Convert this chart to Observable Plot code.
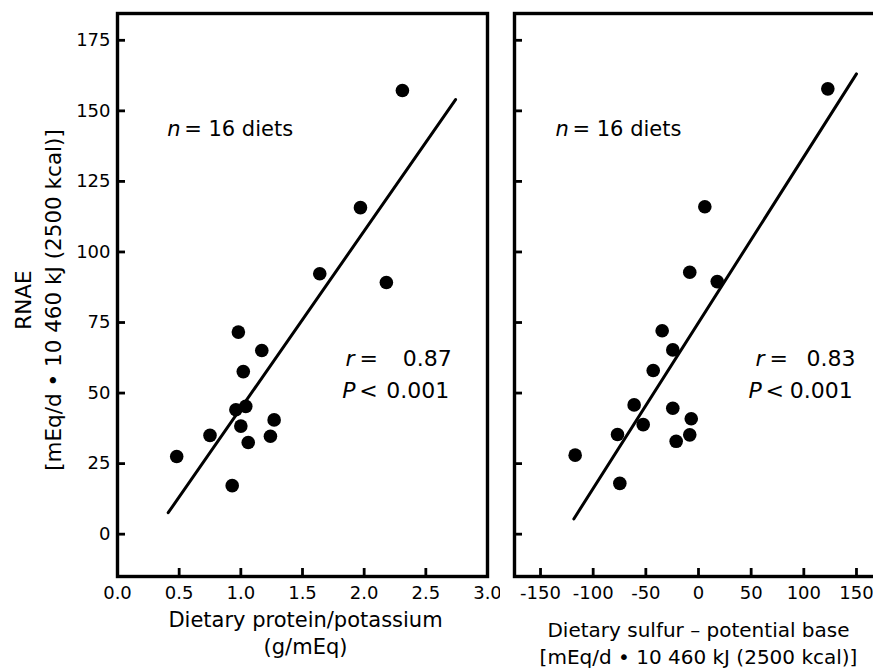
<!DOCTYPE html>
<html>
<head>
<meta charset="utf-8">
<script src="https://cdn.jsdelivr.net/npm/d3@7"></script>
<script src="https://cdn.jsdelivr.net/npm/@observablehq/plot@0.6"></script>
<style>
html, body { margin: 0; padding: 0; background: #fff; overflow: hidden; }
#wrap { position: relative; width: 873px; height: 671px; overflow: hidden; background: #fff; }
#left, #right { position: absolute; top: 0; height: 671px; }
#left { left: 0; width: 500px; }
#right { left: 500px; width: 373px; overflow: hidden; }
#wrap svg { max-width: none !important; display: block; }
</style>
</head>
<body>
<div id="wrap"><div id="left"></div><div id="right"></div></div>
<script>
// ---- Data ----
const proteinPotassium = [2.31, 1.97, 1.64, 2.18, 0.98, 1.17, 1.02, 0.96, 1.04, 1.00, 1.27, 0.75, 1.24, 1.06, 0.48, 0.93];
const rnaeLeft        = [157.2, 115.7, 92.3, 89.2, 71.6, 65.1, 57.6, 44.1, 45.3, 38.3, 40.5, 35.0, 34.7, 32.5, 27.5, 17.2];
const sulfurMinusBase = [122.8, 6.0, -8.3, 17.8, -34.5, -24.4, -43.0, -61.1, -52.5, -24.4, -6.9, -8.3, -76.9, -21.2, -117.1, -74.7];
const rnaeRight       = [157.8, 116.0, 92.8, 89.5, 72.1, 65.3, 58.0, 45.8, 38.8, 44.6, 40.9, 35.2, 35.3, 32.9, 28.0, 18.0];

// regression line end points
const leftFitX  = [0.411, 2.741];
const leftFitY  = [7.6, 154.0];
const rightFitX = [-118.4, 150.0];
const rightFitY = [5.4, 163.1];

// ticks
const yTicks      = [0, 25, 50, 75, 100, 125, 150, 175];
const leftXTicks  = [0, 0.5, 1.0, 1.5, 2.0, 2.5, 3.0];
const rightXTicks = [-150, -100, -50, 0, 50, 100, 150];

// texts
const yLabelLines      = ["RNAE", "[mEq/d • 10 460 kJ (2500 kcal)]"];
const leftXLabelLines  = ["Dietary protein/potassium", "(g/mEq)"];
const rightXLabelLines = ["Dietary sulfur – potential base", "[mEq/d • 10 460 kJ (2500 kcal)]"];
const nText = ["n", "= 16 diets"];
const leftStats  = ["r", "=", "0.87", "P", "<", "0.001"];
const rightStats = ["r", "=", "0.83", "P", "<", "0.001"];

// ---- Build ----
const leftPts  = proteinPotassium.map((x, i) => ({x, y: rnaeLeft[i]}));
const rightPts = sulfurMinusBase.map((x, i) => ({x, y: rnaeRight[i]}));
const leftFit  = leftFitX.map((x, i) => ({x, y: leftFitY[i]}));
const rightFit = rightFitX.map((x, i) => ({x, y: rightFitY[i]}));

const baseStyle = {fontFamily: "DejaVu Sans", fontSize: "18px", color: "black", background: "white", overflow: "visible"};
const yDomain = [-15, 184.5];

function statMarks(s, rX, rEndX, pX, pEndX) {
  return [
    Plot.text([s[0]], {text: d => d, x: rX, y: 62.1, textAnchor: "start", lineAnchor: "middle", fontStyle: "italic", fontSize: 22}),
    Plot.text([s[1]], {text: d => d, x: rX, y: 62.1, dx: 14, textAnchor: "start", lineAnchor: "middle", fontSize: 22}),
    Plot.text([s[2]], {text: d => d, x: rEndX, y: 62.1, textAnchor: "end", lineAnchor: "middle", fontSize: 22}),
    Plot.text([s[3]], {text: d => d, x: pX, y: 50.9, textAnchor: "start", lineAnchor: "middle", fontStyle: "italic", fontSize: 22}),
    Plot.text([s[4]], {text: d => d, x: pX, y: 50.9, dx: 17, textAnchor: "start", lineAnchor: "middle", fontSize: 22}),
    Plot.text([s[5]], {text: d => d, x: pEndX, y: 50.9, textAnchor: "end", lineAnchor: "middle", fontSize: 22})
  ];
}

const leftPlot = Plot.plot({
  width: 500, height: 671,
  marginLeft: 117, marginRight: 13, marginTop: 13, marginBottom: 95,
  x: {domain: [0, 3]},
  y: {domain: yDomain},
  style: baseStyle,
  marks: [
    Plot.axisX({ticks: leftXTicks, tickSize: -8, strokeWidth: 2.8, tickFormat: () => "", label: null}),
    Plot.axisX({ticks: leftXTicks, tickSize: 0, tickPadding: 10, tickFormat: d3.format(".1f"), label: null, fontSize: 18}),
    Plot.axisY({ticks: yTicks, tickSize: -8, strokeWidth: 2.8, tickFormat: () => "", label: null}),
    Plot.axisY({ticks: yTicks, tickSize: 0, tickPadding: 7, tickFormat: d => String(d), label: null, fontSize: 18}),
    Plot.frame({strokeWidth: 3.4}),
    Plot.line(leftFit, {x: "x", y: "y", stroke: "black", strokeWidth: 3}),
    Plot.dot(leftPts, {x: "x", y: "y", r: 6.8, fill: "black"}),
    Plot.text([nText[0]], {text: d => d, x: 0.403, y: 143.6, textAnchor: "start", lineAnchor: "middle", fontStyle: "italic", fontSize: 21}),
    Plot.text([nText[1]], {text: d => d, x: 0.403, y: 143.6, dx: 17, textAnchor: "start", lineAnchor: "middle", fontSize: 21}),
    ...statMarks(leftStats, 1.849, 2.71, 1.822, 2.69),
    Plot.text([yLabelLines.join("\n")], {text: d => d, frameAnchor: "left", textAnchor: "middle", rotate: -90, dx: -81, dy: 5, lineAnchor: "middle", lineHeight: 1.4, fontSize: 21.5}),
    Plot.text([leftXLabelLines.join("\n")], {text: d => d, frameAnchor: "bottom", textAnchor: "middle", dx: 3, dy: 55.5, lineAnchor: "middle", lineHeight: 1.29, fontSize: 21})
  ]
});

const rightPlot = Plot.plot({
  width: 440, height: 671,
  marginLeft: 14, marginRight: 50, marginTop: 13, marginBottom: 95,
  x: {domain: [-174.7, 182.3]},
  y: {domain: yDomain},
  style: baseStyle,
  marks: [
    Plot.axisX({ticks: rightXTicks, tickSize: -8, strokeWidth: 2.8, tickFormat: () => "", label: null}),
    Plot.axisX({ticks: rightXTicks, tickSize: 0, tickPadding: 10, tickFormat: d => String(d), label: null, fontSize: 18}),
    Plot.axisY({ticks: yTicks, tickSize: -8, strokeWidth: 2.8, tickFormat: () => "", label: null}),
    Plot.frame({strokeWidth: 3.4}),
    Plot.line(rightFit, {x: "x", y: "y", stroke: "black", strokeWidth: 3}),
    Plot.dot(rightPts, {x: "x", y: "y", r: 6.8, fill: "black"}),
    Plot.text([nText[0]], {text: d => d, x: -135.8, y: 143.6, textAnchor: "start", lineAnchor: "middle", fontStyle: "italic", fontSize: 21}),
    Plot.text([nText[1]], {text: d => d, x: -135.8, y: 143.6, dx: 17, textAnchor: "start", lineAnchor: "middle", fontSize: 21}),
    ...statMarks(rightStats, 54.1, 149.1, 47.5, 146.5),
    Plot.text([rightXLabelLines.join("\n")], {text: d => d, frameAnchor: "bottom", textAnchor: "middle", dx: -4, dy: 65.5, lineAnchor: "middle", lineHeight: 1.35, fontSize: 20})
  ]
});

document.getElementById("left").appendChild(leftPlot);
document.getElementById("right").appendChild(rightPlot);
</script>
</body>
</html>
